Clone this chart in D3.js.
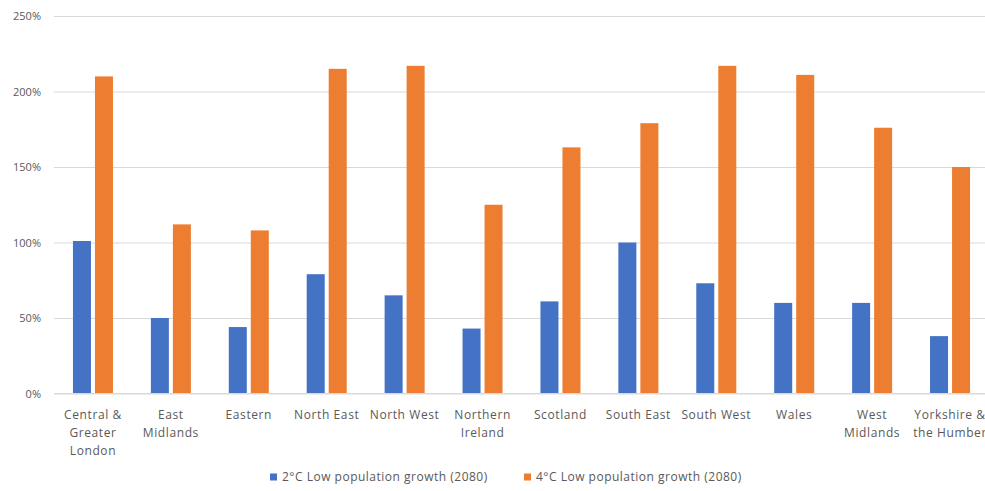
<!DOCTYPE html>
<html>
<head>
<meta charset="utf-8">
<script src="https://cdn.jsdelivr.net/npm/d3@7"></script>
<style>
  html, body { margin: 0; padding: 0; background: #fff; }
  svg { display: block; font-family: "Open Sans", "Liberation Sans", sans-serif; }
</style>
</head>
<body>
<svg id="chart" width="985" height="491"></svg>
<script>
const categories = ["Central & Greater London", "East Midlands", "Eastern", "North East", "North West",
  "Northern Ireland", "Scotland", "South East", "South West", "Wales", "West Midlands", "Yorkshire & the Humber"];
const seriesNames = ["2\u00B0C Low population growth (2080)", "4\u00B0C Low population growth (2080)"];
const low2C = [1.01, 0.50, 0.44, 0.79, 0.65, 0.43, 0.61, 1.00, 0.73, 0.60, 0.60, 0.38];
const low4C = [2.10, 1.12, 1.08, 2.15, 2.17, 1.25, 1.63, 1.79, 2.17, 2.11, 1.76, 1.50];
const yTicks = [0, 0.5, 1.0, 1.5, 2.0, 2.5];
const colors = ["#4472C4", "#ED7D31"];

const svg = d3.select("#chart");
const plot = { left: 54, right: 989, top: 16, bottom: 393.5 };

const x0 = d3.scaleBand().domain(categories).range([plot.left, plot.right]).padding(0);
const x1 = d3.scaleBand().domain(seriesNames).range([0, x0.bandwidth()])
  .paddingInner(0.182).paddingOuter(0.861);
const y = d3.scaleLinear().domain([0, 2.5]).range([plot.bottom, plot.top]);

// gridlines
const yAxis = d3.axisLeft(y).tickValues(yTicks).tickFormat(d3.format(".0%"))
  .tickSize(-(985 - plot.left)).tickPadding(13);
const gy = svg.append("g").attr("transform", `translate(${plot.left},0)`).call(yAxis);
gy.select(".domain").remove();
gy.selectAll(".tick line").attr("stroke", "#d9d9d9").attr("stroke-width", 1);
gy.selectAll(".tick text").attr("fill", "#595959").style("font-size", "11px")
  .style("font-family", "'Open Sans', sans-serif");

// bars
const data = categories.map((c, i) => ({ cat: c, vals: [low2C[i], low4C[i]] }));
const groups = svg.append("g").selectAll("g").data(data).join("g")
  .attr("transform", d => `translate(${x0(d.cat)},0)`);
groups.selectAll("rect").data(d => d.vals.map((v, j) => ({ s: seriesNames[j], v, j })))
  .join("rect")
  .attr("x", d => x1(d.s))
  .attr("width", x1.bandwidth())
  .attr("y", d => y(d.v))
  .attr("height", d => y(0) - y(d.v))
  .attr("fill", d => colors[d.j]);

// baseline
svg.append("line").attr("x1", plot.left).attr("x2", 985)
  .attr("y1", y(0)).attr("y2", y(0)).attr("stroke", "#d9d9d9");

// x axis labels with wrapping
const xAxis = d3.axisBottom(x0).tickSize(0).tickPadding(0);
const gx = svg.append("g").attr("transform", `translate(0,${plot.bottom})`).call(xAxis);
gx.select(".domain").remove();
gx.selectAll(".tick text").attr("fill", "#595959").style("font-size", "12px")
  .style("font-family", "'Open Sans', sans-serif").style("letter-spacing", "0.6px")
  .each(function(d) {
    const t = d3.select(this);
    const words = d.split(" ");
    t.text(null);
    let lines = [], cur = [];
    const maxW = 76;
    words.forEach(w => {
      cur.push(w);
      t.text(cur.join(" "));
      if (this.getComputedTextLength() > maxW && cur.length > 1) {
        cur.pop();
        lines.push(cur.join(" "));
        cur = [w];
      }
    });
    lines.push(cur.join(" "));
    t.text(null);
    lines.forEach((ln, i) => {
      t.append("tspan").attr("x", 0).attr("y", 25 + i * 18).attr("dy", 0).text(ln);
    });
  });

// legend
const legend = svg.append("g").attr("transform", "translate(270,477)");
const legendX = [0, 254];
seriesNames.forEach((s, i) => {
  const g = legend.append("g").attr("transform", `translate(${legendX[i]},0)`);
  g.append("rect").attr("x", 0).attr("y", -3.5).attr("width", 7).attr("height", 7).attr("fill", colors[i]);
  g.append("text").attr("x", 12).attr("y", 4).attr("fill", "#595959")
    .style("font-size", "12px").style("letter-spacing", "0.5px").text(s);
});
</script>
</body>
</html>
